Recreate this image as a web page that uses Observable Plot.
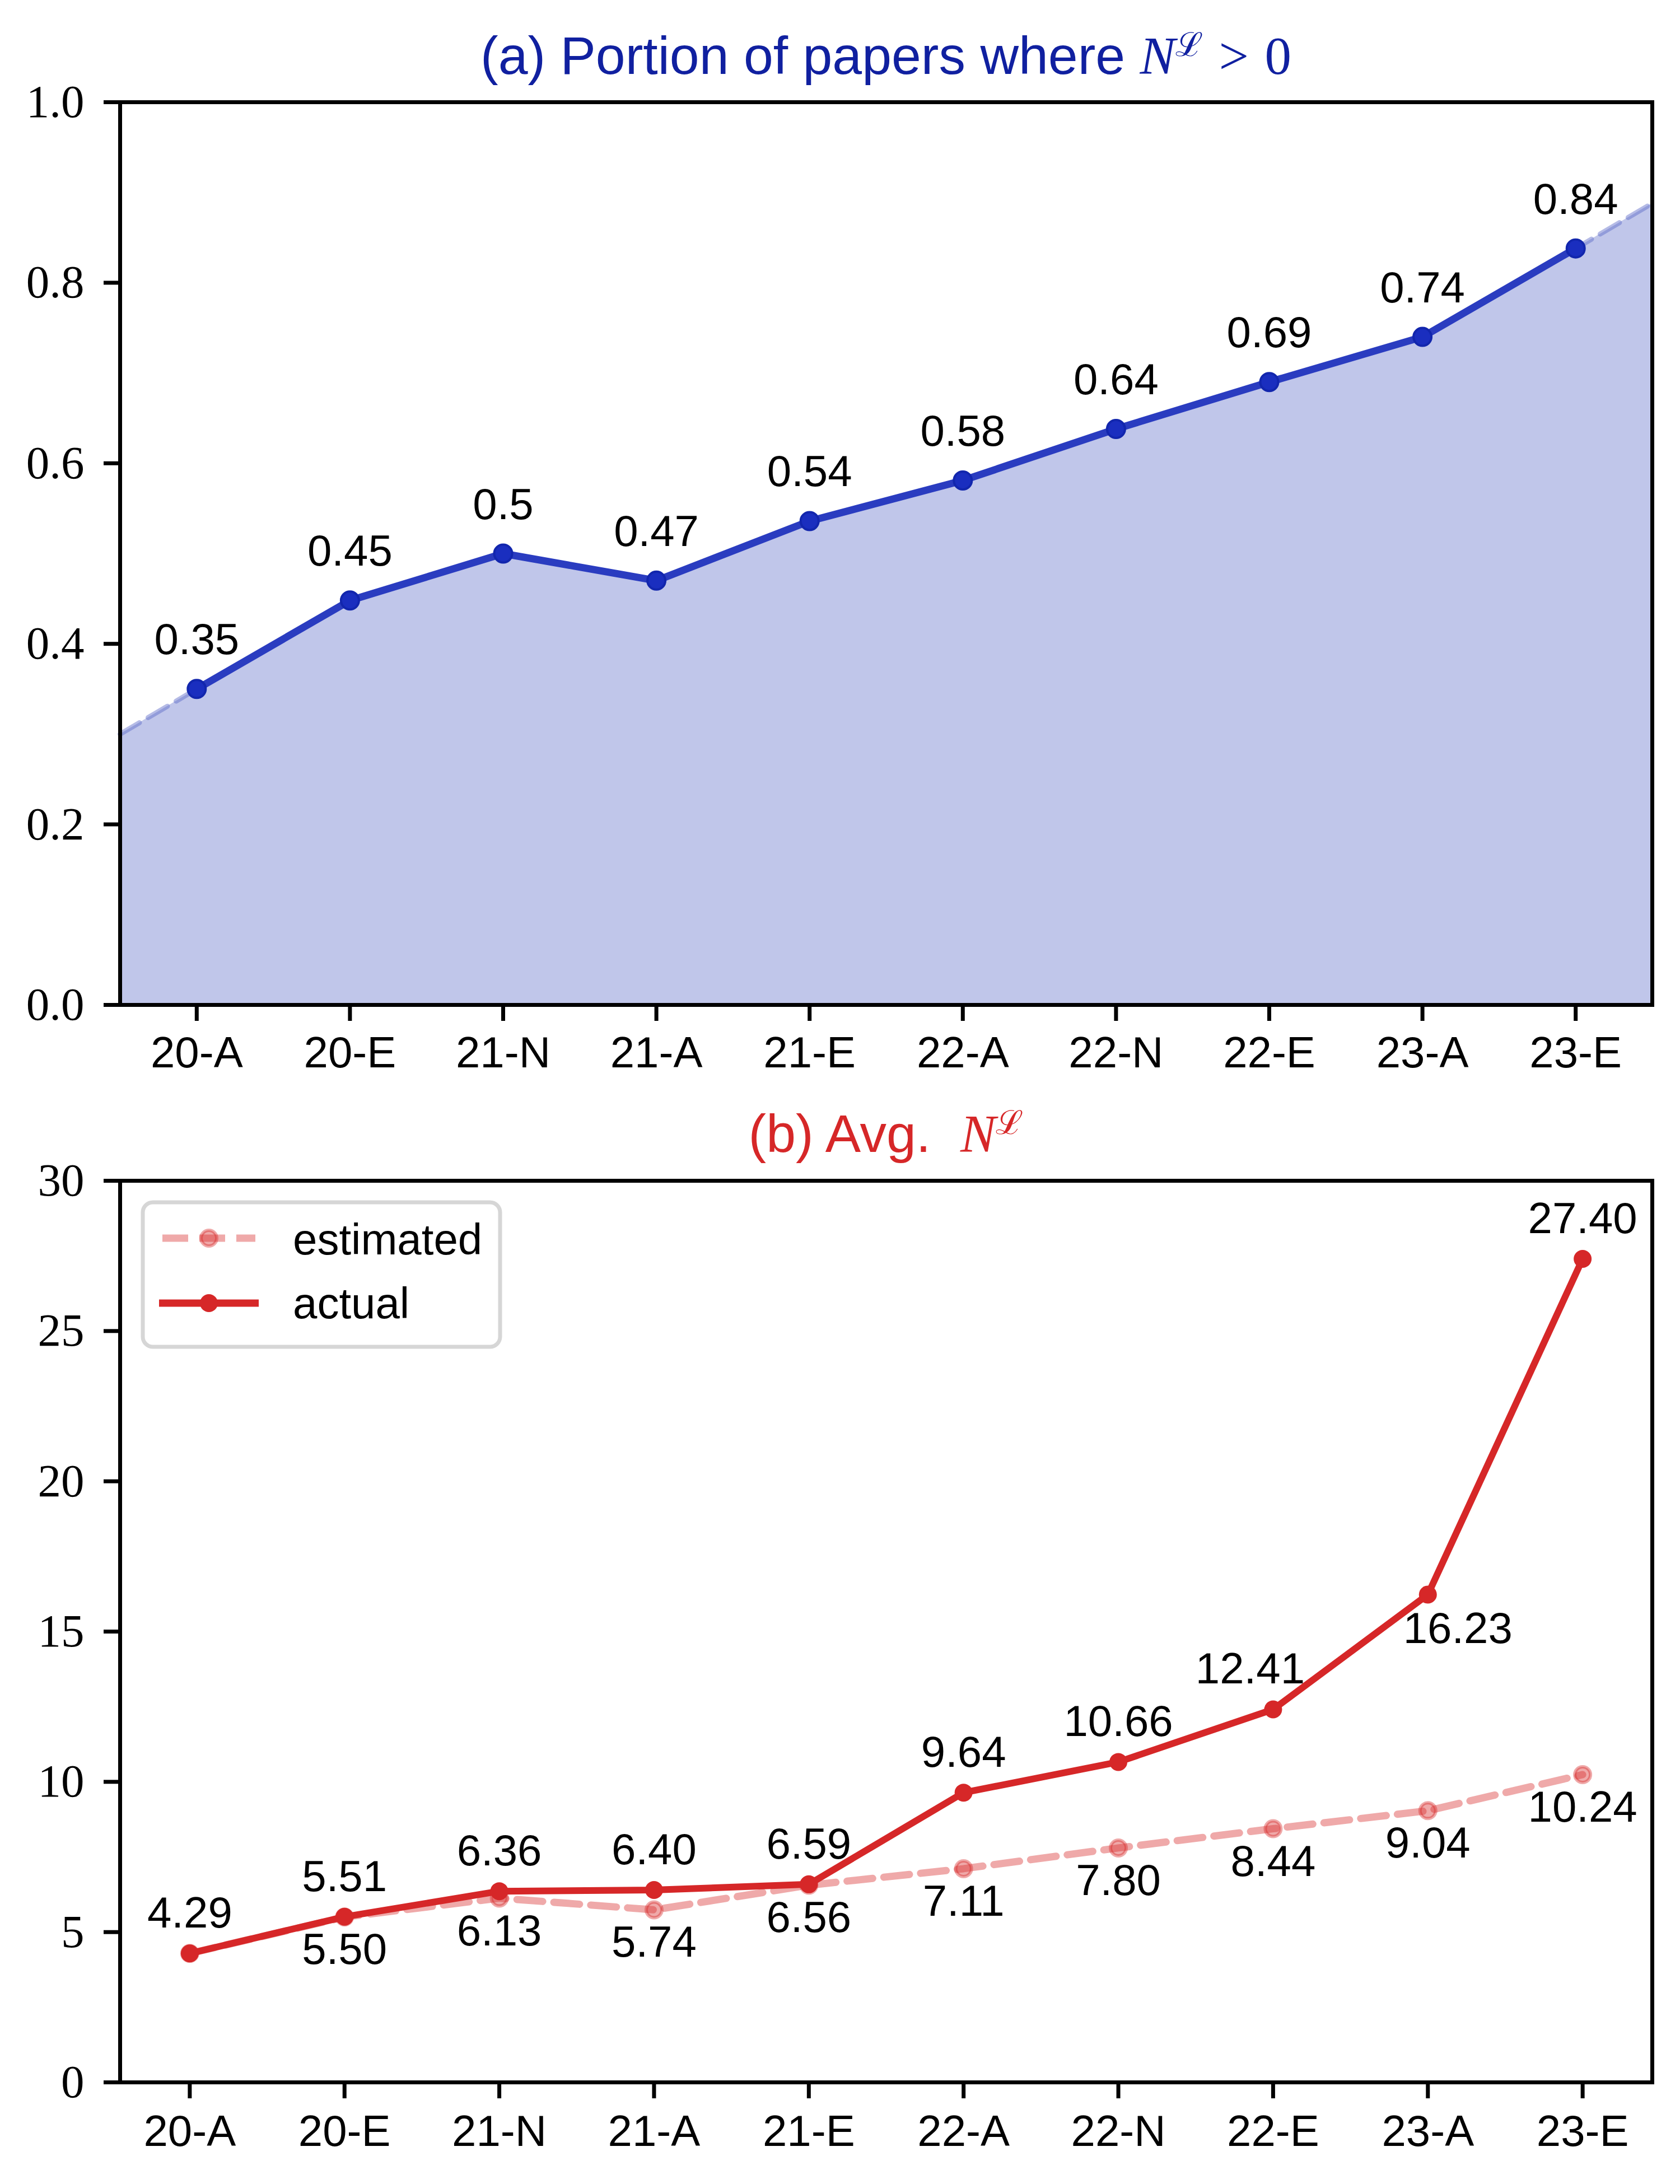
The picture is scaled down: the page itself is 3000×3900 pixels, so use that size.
<!DOCTYPE html>
<html>
<head>
<meta charset="utf-8">
<script src="https://cdn.jsdelivr.net/npm/d3@7"></script>
<script src="https://cdn.jsdelivr.net/npm/@observablehq/plot@0.6"></script>
<style>
  html, body { margin: 0; padding: 0; background: #fff; }
  #fig { position: relative; width: 3000px; height: 3900px; background: #fff; overflow: hidden; }
  .panel { position: absolute; left: 0; }
  .title { position: absolute; left: 214px; width: 2736px; text-align: center;
           font-family: "Liberation Sans", "DejaVu Sans", sans-serif; font-size: 95px; line-height: 1; white-space: nowrap; }
  .math { font-family: "Liberation Serif", "DejaVu Serif", serif; }
  .math i { font-style: italic; }
  .math sup { font-size: 62%; vertical-align: 0; position: relative; top: -0.55em; font-style: normal; }
  .gap { display: inline-block; margin: 0 0.3em; }
</style>
</head>
<body>
<div id="fig">
  <div class="title" id="titleA" style="top:52px;color:#1020a0;">(a) Portion of papers where <span class="math"><i>N</i><sup>ℒ</sup><span class="gap">&gt;</span>0</span></div>
  <div class="panel" id="panelA" style="top:0px;"></div>
  <div class="title" id="titleB" style="top:1977px;color:#d62728;">(b) Avg.&nbsp; <span class="math"><i>N</i><sup>ℒ</sup></span></div>
  <div class="panel" id="panelB" style="top:1960px;"></div>
</div>
<script>
// ---------------- data ----------------
const categories = ["20-A","20-E","21-N","21-A","21-E","22-A","22-N","22-E","23-A","23-E"];
const portion = [0.35, 0.448, 0.50, 0.47, 0.536, 0.581, 0.638, 0.69, 0.74, 0.838];
const portionEdges = [0.30, 0.888];          // extrapolated values at the panel edges (x = -0.5 and 9.5)
const avgEstimated = [4.29, 5.50, 6.13, 5.74, 6.56, 7.11, 7.80, 8.44, 9.04, 10.24];
const avgActual = [4.29, 5.51, 6.36, 6.40, 6.59, 9.64, 10.66, 12.41, 16.23, 27.40];
const yTicksA = [0, 0.2, 0.4, 0.6, 0.8, 1.0];
const yTicksB = [0, 5, 10, 15, 20, 25, 30];

// ---------------- styling ----------------
const SANS = "Liberation Sans, DejaVu Sans, sans-serif";
const SERIF = "Liberation Serif, DejaVu Serif, serif";
const idx = categories.map((c, i) => i);

// --------------- panel (a) ----------------
const ptsA = portion.map((v, i) => ({i, v}));
const areaPts = [{i: -0.5, v: portionEdges[0]}, ...ptsA, {i: 9.5, v: portionEdges[1]}];

const plotA = Plot.plot({
  width: 3000, height: 1960,
  marginTop: 182, marginBottom: 166, marginLeft: 214, marginRight: 50,
  style: {background: "transparent", fontFamily: SANS, fontSize: "78px", overflow: "visible"},
  x: {domain: [-0.5, 9.5]},
  y: {domain: [0, 1]},
  marks: [
    Plot.areaY(areaPts, {x: "i", y: "v", fill: "#c0c6ea"}),
    Plot.line(areaPts, {x: "i", y: "v", stroke: "#5a68c8", strokeOpacity: 0.45, strokeWidth: 9, strokeDasharray: "40,18"}),
    Plot.line(ptsA, {x: "i", y: "v", stroke: "#2a3cc0", strokeWidth: 13}),
    Plot.dot(ptsA, {x: "i", y: "v", r: 16, fill: "#1a2ebf", stroke: "#1226ad", strokeWidth: 4}),
    Plot.text(ptsA, {x: "i", y: "v", text: d => String(Math.round(d.v * 100) / 100), dy: -62, lineAnchor: "bottom",
      fontSize: 78, fontFamily: SANS, fill: "black"}),
    Plot.axisY({ticks: yTicksA, tickFormat: d3.format(".1f"), tickSize: 29, tickPadding: 35, label: null,
      fontSize: 83, fontFamily: SERIF, strokeWidth: 7}),
    Plot.axisX({ticks: idx, tickFormat: i => categories[i], tickSize: 29, tickPadding: 27, label: null,
      fontSize: 78, fontFamily: SANS, strokeWidth: 7}),
    Plot.frame({stroke: "black", strokeWidth: 7})
  ]
});
document.getElementById("panelA").appendChild(plotA);

// --------------- panel (b) ----------------
const est = avgEstimated.map((v, i) => ({i, v}));
const act = avgActual.map((v, i) => ({i, v}));
const estLabels = est.filter(d => d.i > 0);
const actShift = [0, 0, 0, 0, 0, 0, 0, -41, 54, 0];        // horizontal nudges of the actual-value labels
const actBelow = [false, false, false, false, false, false, false, false, true, false];

const plotB = Plot.plot({
  width: 3000, height: 1940,
  marginTop: 148, marginBottom: 182, marginLeft: 214, marginRight: 50,
  style: {background: "transparent", fontFamily: SANS, fontSize: "78px", overflow: "visible"},
  x: {domain: [-0.45, 9.45]},
  y: {domain: [0, 30]},
  marks: [
    Plot.line(est, {x: "i", y: "v", stroke: "#d62728", strokeOpacity: 0.4, strokeWidth: 13, strokeDasharray: "46,20"}),
    Plot.dot(est, {x: "i", y: "v", r: 14, fill: "#d62728", fillOpacity: 0.4, stroke: "#d62728", strokeOpacity: 0.4, strokeWidth: 6}),
    Plot.line(act, {x: "i", y: "v", stroke: "#d62728", strokeWidth: 12}),
    Plot.dot(act, {x: "i", y: "v", r: 16, fill: "#d62728"}),
    Plot.text(estLabels, {x: "i", y: "v", text: d => d.v.toFixed(2), dy: 84, lineAnchor: "bottom",
      fontSize: 78, fontFamily: SANS, fill: "black"}),
    Plot.text(act.filter(d => !actBelow[d.i]), {x: "i", y: "v", text: d => d.v.toFixed(2), dy: -46, lineAnchor: "bottom",
      fontSize: 78, fontFamily: SANS, fill: "black"}),
    Plot.axisY({ticks: yTicksB, tickFormat: d3.format("d"), tickSize: 29, tickPadding: 35, label: null,
      fontSize: 83, fontFamily: SERIF, strokeWidth: 7}),
    Plot.axisX({ticks: idx, tickFormat: i => categories[i], tickSize: 29, tickPadding: 29, label: null,
      fontSize: 78, fontFamily: SANS, strokeWidth: 7}),
    Plot.frame({stroke: "black", strokeWidth: 7})
  ]
});
document.getElementById("panelB").appendChild(plotB);

// apply horizontal nudges, the below-placed actual label, and the legend
(function () {
  const svg = d3.select(plotB);
  const xs = plotB.scale("x"), ys = plotB.scale("y");
  const textGroups = svg.selectAll("g[aria-label='text']").nodes();
  const actGroup = d3.select(textGroups[1]);
  const kept = act.filter(d => !actBelow[d.i]);
  actGroup.selectAll("text").each(function (_, k) {
    const d = kept[k];
    if (d && actShift[d.i]) {
      const t = d3.select(this);
      const tr = t.attr("transform") || "";
      t.attr("transform", tr + ` translate(${actShift[d.i]},0)`);
    }
  });
  const g = svg.append("g").attr("font-family", SANS).attr("font-size", 78).attr("text-anchor", "middle");
  act.filter(d => actBelow[d.i]).forEach(d => {
    g.append("text").attr("x", xs.apply(d.i) + actShift[d.i]).attr("y", ys.apply(d.v) + 87).text(d.v.toFixed(2));
  });

  // legend
  const L = svg.append("g").attr("text-anchor", "start");
  L.append("rect").attr("x", 255).attr("y", 187).attr("width", 638).attr("height", 258)
    .attr("rx", 18).attr("fill", "white").attr("fill-opacity", 0.85).attr("stroke", "#d6d6d6").attr("stroke-width", 7);
  L.append("line").attr("x1", 290).attr("x2", 456).attr("y1", 251).attr("y2", 251)
    .attr("stroke", "#d62728").attr("stroke-opacity", 0.4).attr("stroke-width", 13).attr("stroke-dasharray", "46,20");
  L.append("circle").attr("cx", 373).attr("cy", 251).attr("r", 14).attr("fill", "#d62728").attr("fill-opacity", 0.4)
    .attr("stroke", "#d62728").attr("stroke-opacity", 0.4).attr("stroke-width", 6);
  L.append("line").attr("x1", 284).attr("x2", 462).attr("y1", 367).attr("y2", 367)
    .attr("stroke", "#d62728").attr("stroke-width", 13);
  L.append("circle").attr("cx", 373).attr("cy", 367).attr("r", 16).attr("fill", "#d62728");
  L.append("text").attr("x", 523).attr("y", 280).attr("text-anchor", "start").attr("font-family", SANS).attr("font-size", 78).text("estimated");
  L.append("text").attr("x", 523).attr("y", 394).attr("text-anchor", "start").attr("font-family", SANS).attr("font-size", 78).text("actual");
})();
</script>
</body>
</html>
